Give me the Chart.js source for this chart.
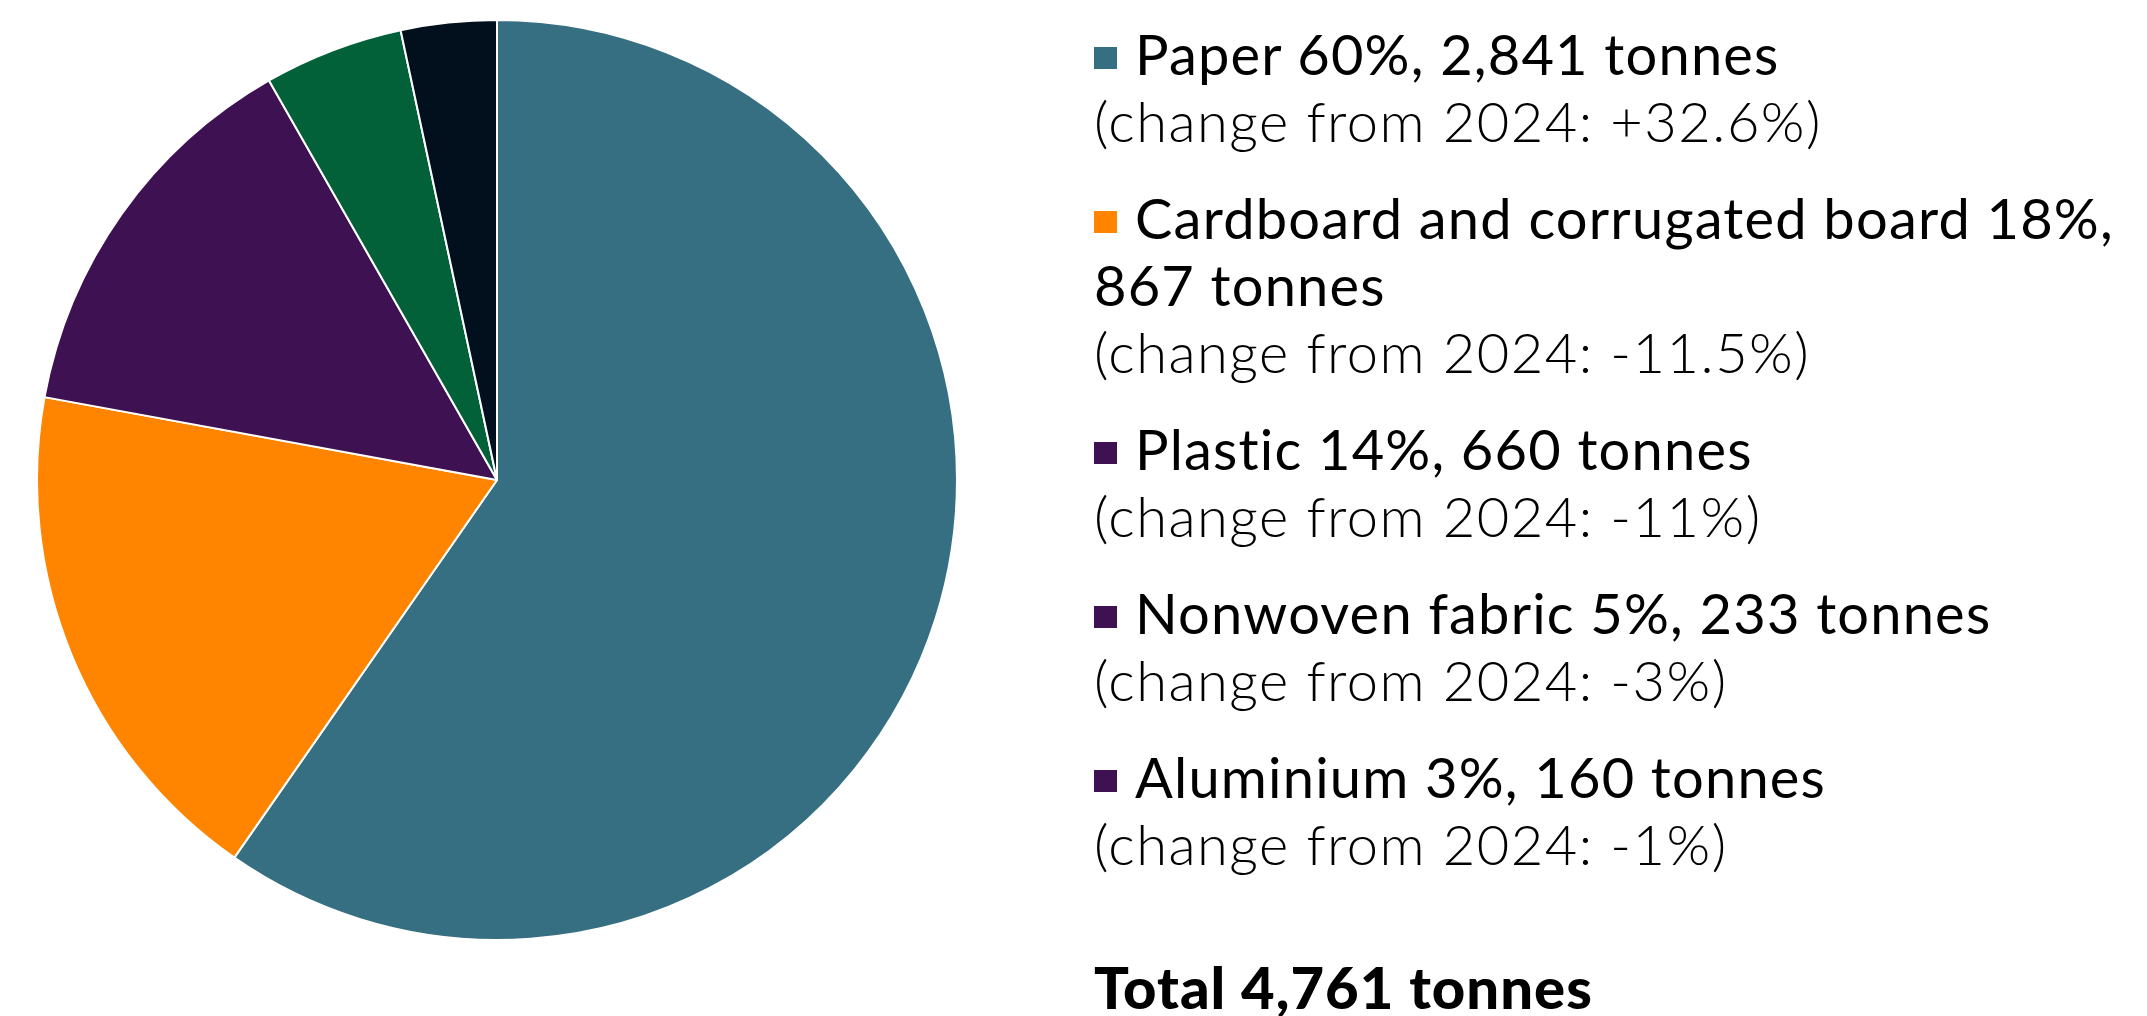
<!DOCTYPE html>
<html>
<head>
<meta charset="utf-8">
<script src="https://cdn.jsdelivr.net/npm/chart.js@4"></script>
<style>
  html, body { margin: 0; padding: 0; background: #fff; }
  body { width: 2147px; height: 1016px; position: relative; overflow: hidden; font-family: Lato, "Open Sans", sans-serif; color: #000; }
  #pie-box { position: absolute; left: 36px; top: 19px; width: 922px; height: 922px; }
  #legend { position: absolute; left: 1094px; top: 20px; width: 1060px; }
  .item { margin-bottom: 30px; }
  .line { font-size: 56px; line-height: 67px; }
  .main { font-weight: 400; letter-spacing: 1.2px; }
  .sub { font-weight: 300; letter-spacing: 1.5px; }
  .swatch { display: inline-block; width: 23px; height: 22px; margin-right: 18px; vertical-align: 6px; }
  .nowrap { white-space: nowrap; }
  .total { font-size: 58px; line-height: 67px; font-weight: 900; letter-spacing: 1px; margin-top: 76px; }
</style>
</head>
<body>
<div id="pie-box"><canvas id="pie"></canvas></div>
<div id="legend"></div>

<script>
// materiali e tonnellate
const categories = ["Paper", "Cardboard and corrugated board", "Plastic", "Nonwoven fabric", "Aluminium"];
const tonnes = [2841, 867, 660, 233, 160];
const shares = [60, 18, 14, 5, 3];
const changes = ["+32.6%", "-11.5%", "-11%", "-3%", "-1%"];
const sliceColors = ["#366f82", "#ff8500", "#3d1152", "#03613a", "#020f1d"];
const swatchColors = ["#366f82", "#ff8500", "#3d1152", "#3d1152", "#3d1152"];
const totalTonnes = 4761;
const baseYear = 2024;

const fmt = (n) => n.toLocaleString("en-US");

// legenda a destra
const legend = document.getElementById("legend");
categories.forEach((name, i) => {
  const item = document.createElement("div");
  item.className = "item";
  item.innerHTML = `
    <div class="line main"><span class="swatch" style="background:${swatchColors[i]}"></span><span class="nowrap">${name} ${shares[i]}%,</span> <span class="nowrap">${fmt(tonnes[i])} tonnes</span></div>
    <div class="line sub">(change from ${baseYear}: ${changes[i]})</div>`;
  legend.appendChild(item);
});
const total = document.createElement("div");
total.className = "total";
total.textContent = `Total ${fmt(totalTonnes)} tonnes`;
legend.appendChild(total);

// torta
new Chart(document.getElementById("pie"), {
  type: "pie",
  data: {
    labels: categories,
    datasets: [{
      data: tonnes,
      backgroundColor: sliceColors,
      borderColor: "#ffffff",
      borderWidth: 2,
    }],
  },
  options: {
    responsive: true,
    maintainAspectRatio: false,
    animation: false,
    layout: { padding: 0 },
    plugins: {
      legend: { display: false },
      tooltip: { enabled: false },
    },
  },
});
</script>
</body>
</html>
